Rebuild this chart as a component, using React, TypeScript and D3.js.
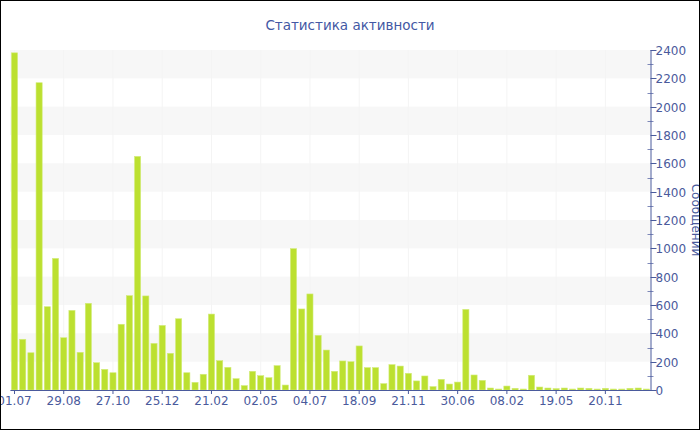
import * as d3 from "d3";

const W = 700;
const H = 430;
const LEFT = 10.4;
const RIGHT = 650.5;
const TOP = 50;
const BOTTOM = 390;

const TITLE = "Статистика активности";
const Y_TITLE = "Сообщений";

// messages per period
const messages = [
  2380, 358, 263, 2169, 588, 929, 369, 562, 266, 612,
  193, 146, 122, 464, 666, 1649, 664, 329, 456, 259,
  503, 122, 54, 111, 536, 207, 160, 80, 31, 132,
  101, 87, 172, 35, 998, 572, 678, 386, 282, 132,
  205, 200, 311, 158, 158, 45, 179, 169, 118, 64,
  99, 24, 75, 42, 56, 569, 106, 68, 14, 7,
  28, 12, 7, 104, 21, 14, 10, 14, 7, 14,
  12, 7, 12, 7, 7, 12, 14, 7,
];

// a label on every 6th bar
const tickLabels = [
  "01.07", "29.08", "27.10", "25.12", "21.02", "02.05", "04.07",
  "18.09", "21.11", "30.06", "08.02", "19.05", "20.11",
];
const LABEL_EVERY = 6;

const yMajor = [0, 200, 400, 600, 800, 1000, 1200, 1400, 1600, 1800, 2000, 2200, 2400];

const AXIS = "#4a5a9c";
const BAR = "#bce030";

export default function App() {
  const keys = messages.map((_, i) => String(i));
  const x = d3.scaleBand().domain(keys).range([LEFT, RIGHT]).paddingInner(0.25).paddingOuter(0.125);
  const y = d3.scaleLinear().domain([0, 2400]).range([BOTTOM, TOP]);
  const minor = y.ticks(24).filter((v) => v % 200 !== 0);
  const ticks = tickLabels.map((label, i) => ({
    label,
    cx: (x(String(i * LABEL_EVERY)) ?? 0) + x.bandwidth() / 2,
  }));

  return (
    <div style={{ position: "absolute", left: 0, top: 0 }}>
      <svg width={W} height={H} style={{ display: "block", fontFamily: "DejaVu Sans, Verdana, sans-serif" }}>
        <rect x={0} y={0} width={W} height={H} fill="#fff" />

        {/* alternating bands */}
        {yMajor.slice(0, -1).map((v, i) =>
          i % 2 === 1 ? (
            <rect key={v} x={10} y={y(v + 200)} width={RIGHT - 10} height={y(v) - y(v + 200)} fill="#f7f7f7" />
          ) : null
        )}
        {ticks.map((t) => (
          <line key={t.label} x1={t.cx} x2={t.cx} y1={TOP} y2={BOTTOM} stroke="#f4f4f4" />
        ))}

        {/* bars */}
        {messages.map((v, i) => (
          <rect
            key={i}
            x={x(String(i))}
            y={y(v)}
            width={x.bandwidth()}
            height={BOTTOM - y(v)}
            fill={BAR}
            stroke="#d3ec7c"
            strokeWidth={0.6}
          />
        ))}

        {/* x axis */}
        <line x1={LEFT} x2={RIGHT + 1} y1={BOTTOM + 0.5} y2={BOTTOM + 0.5} stroke={AXIS} />
        {ticks.map((t) => (
          <g key={t.label} transform={`translate(${t.cx},0)`}>
            <line y1={BOTTOM} y2={BOTTOM + 4} stroke={AXIS} />
            <text y={BOTTOM + 15} textAnchor="middle" fontSize={12} fill={AXIS}>
              {t.label}
            </text>
          </g>
        ))}

        {/* right y axis */}
        <line x1={RIGHT + 0.5} x2={RIGHT + 0.5} y1={TOP} y2={BOTTOM + 1} stroke={AXIS} />
        {minor.map((v) => (
          <line key={v} x1={RIGHT - 3} x2={RIGHT + 3} y1={Math.round(y(v)) + 0.5} y2={Math.round(y(v)) + 0.5} stroke={AXIS} strokeOpacity={0.7} />
        ))}
        {yMajor.map((v) => (
          <g key={v} transform={`translate(0,${Math.round(y(v)) + 0.5})`}>
            <line x1={RIGHT} x2={RIGHT + 6} stroke={AXIS} />
            <text x={RIGHT + 5} dy="0.35em" fontSize={12} fill={AXIS}>
              {v}
            </text>
          </g>
        ))}
        <text
          transform={`translate(692,${(TOP + BOTTOM) / 2}) rotate(90)`}
          textAnchor="middle"
          fontSize={12}
          fill={AXIS}
        >
          {Y_TITLE}
        </text>

        <text x={350} y={30} textAnchor="middle" fontSize={13.5} fill="#4358a4">
          {TITLE}
        </text>

        <rect x={0.5} y={0.5} width={W - 1} height={H - 1} fill="none" stroke="#000" />
      </svg>
    </div>
  );
}
